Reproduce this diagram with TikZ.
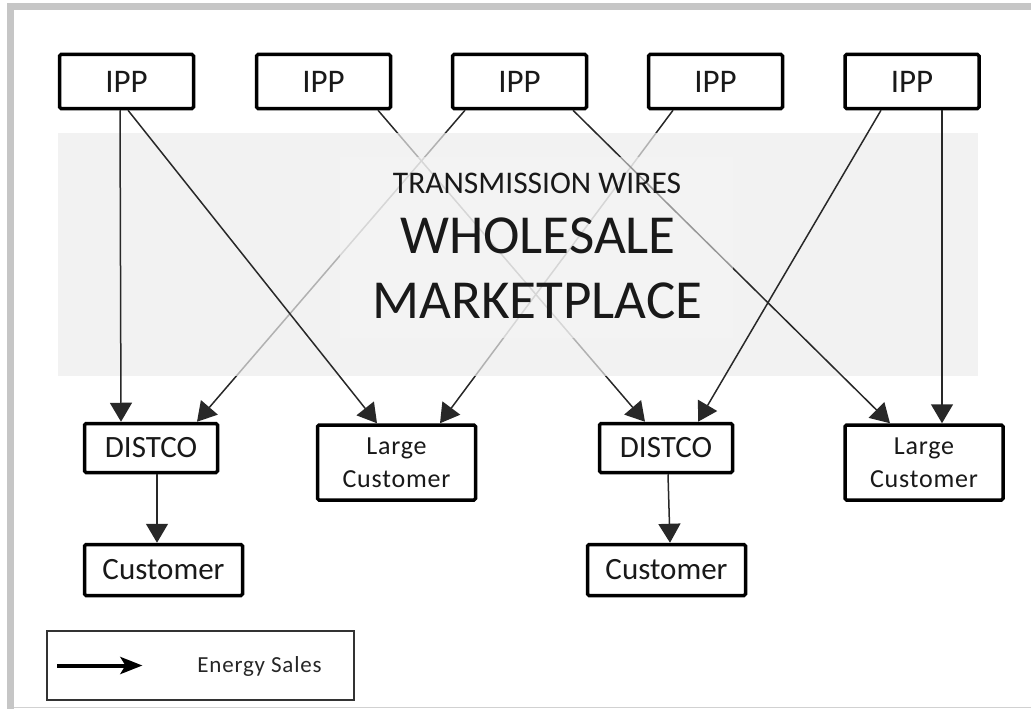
\documentclass[tikz,border=0pt]{standalone}
\usepackage{fontspec}
\setmainfont{Carlito}
\usetikzlibrary{arrows.meta,calc}
\newcommand\pxfont[2]{\fontsize{#1}{#2}\selectfont}
\definecolor{framegray}{RGB}{198,198,198}
\definecolor{bandgray}{RGB}{236,236,236}
\definecolor{panelgray}{RGB}{245,245,245}
\definecolor{wire}{RGB}{40,40,40}

\begin{document}
\begin{tikzpicture}[x=1pt,y=-1pt,
  box/.style={draw=black, line width=3.5pt, rounded corners=1.5pt, fill=white,
    inner sep=0pt, text=black!90},
  ippbox/.style={box, minimum width=134pt, minimum height=54pt,
    font={\pxfont{33}{40}}},
  distbox/.style={box, minimum width=133pt, minimum height=49pt,
    font={\pxfont{31}{37}}},
  largebox/.style={box, minimum width=158pt, minimum height=75pt, align=center,
    font={\pxfont{26}{33}\addfontfeatures{LetterSpace=3}}},
  custbox/.style={box, minimum width=158pt, minimum height=51pt,
    font={\pxfont{31}{37}}},
  sale/.style={draw=wire, line width=1.5pt,
    -{Triangle[length=19pt,width=22pt]}},
  title/.style={anchor=base, text=black!90, inner sep=0pt},
]
\useasboundingbox (0,0) rectangle (1031,709);

% page frame
\fill[framegray] (7,3) rectangle (1031,10);
\fill[framegray] (7,3) rectangle (14,709);
\draw[black!18, line width=1.5pt] (14,707.5) -- (1031,707.5);

% generators
\node[ippbox] (ipp1) at (126.5,81.5) {IPP};
\node[ippbox] (ipp2) at (323.5,81.5) {IPP};
\node[ippbox] (ipp3) at (519.5,81.5) {IPP};
\node[ippbox] (ipp4) at (715.5,81.5) {IPP};
\node[ippbox] (ipp5) at (912,81.5) {IPP};

% buyers
\node[distbox]  (distco1) at (151,448) {DISTCO};
\node[largebox] (large1)  at (396.5,462.5) {Large\\Customer};
\node[custbox]  (cust1)   at (163.5,570) {Customer};
\node[distbox]  (distco2) at (666,448) {DISTCO};
\node[largebox] (large2)  at (924,462.5) {Large\\Customer};
\node[custbox]  (cust2)   at (666.5,570) {Customer};

% sales passing behind the marketplace band
\draw[sale] ([xshift=54.5pt]ipp2.south) -- ([xshift=-21pt]distco2.north);
\draw[sale] ([xshift=-54.5pt]ipp3.south) -- ([xshift=46pt]distco1.north);
\draw[sale] ([xshift=-42.5pt]ipp4.south) -- ([xshift=43.5pt]large1.north);

% transmission band
\node[fill=bandgray, fill opacity=0.7, inner sep=0pt,
  minimum width=920pt, minimum height=243pt] (band) at (518,254.5) {};

\draw[sale] ([xshift=53.5pt]ipp3.south) -- ([xshift=-34pt]large2.north);

% marketplace panel
\node[fill=panelgray, fill opacity=0.55, inner sep=0pt,
  minimum width=393pt, minimum height=181pt] (panel) at (536.5,247.5) {};

% sales drawn over the band
\draw[sale] ([xshift=-6.5pt]ipp1.south) -- ([xshift=-30pt]distco1.north);
\draw[sale] ([xshift=1.5pt]ipp1.south) -- ([xshift=-19.5pt]large1.north);
\draw[sale] ([xshift=-31pt]ipp5.south) -- ([xshift=32pt]distco2.north);
\draw[sale] ([xshift=30pt]ipp5.south) -- ([xshift=18pt]large2.north);

% local distribution
\draw[sale] ([xshift=6pt]distco1.south) -- ([xshift=-6.5pt]cust1.north);
\draw[sale] ([xshift=2pt]distco2.south) -- ([xshift=3.5pt]cust2.north);

% marketplace titles
\node[title, font={\pxfont{31.5}{38}}] (wires) at (537,193) {TRANSMISSION WIRES};
\node[title, font={\pxfont{55}{60}}] (wholesale) at (538,253) {WHOLESALE};
\node[title, font={\pxfont{55}{60}}] (market) at (537.5,318) {MARKETPLACE};

% legend
\node[draw=black!80, line width=1.2pt, inner sep=0pt,
  minimum width=307pt, minimum height=69pt] (legend) at (200.5,665.5) {};
\draw[black, line width=4pt, -{Stealth[length=22pt,width=17pt,inset=5pt]}]
  ([xshift=11pt]legend.west) -- ([xshift=96pt]legend.west);
\node[anchor=base, inner sep=0pt, text=black!85,
  font={\pxfont{23}{28}\addfontfeatures{LetterSpace=3.5}}] (energy) at (259.5,672) {Energy Sales};
\end{tikzpicture}
\end{document}
